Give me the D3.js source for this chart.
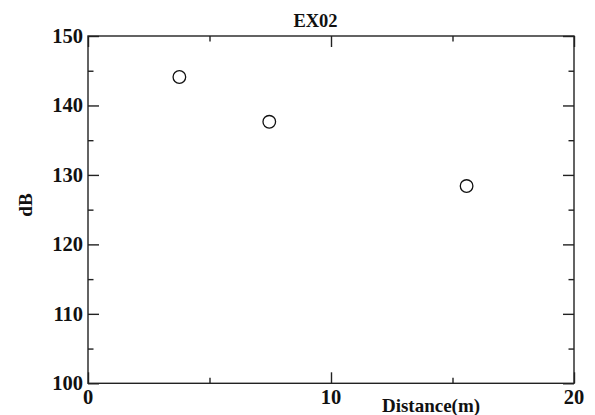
<!DOCTYPE html>
<html><head><meta charset="utf-8">
<script src="https://cdn.jsdelivr.net/npm/d3@7"></script>
<style>body{margin:0;background:#fff}svg{display:block}text{font-family:"Liberation Serif","Times New Roman",serif;font-weight:bold;fill:#111}</style>
</head><body><svg id="c" width="595" height="415"></svg>
<script>
const title = "EX02";
const xLabel = "Distance(m)";
const yLabel = "dB";
const distance = [3.76, 7.46, 15.58];
const level = [144.1, 137.65, 128.4];
const xMajorTicks = [0, 10, 20];
const xMinorTicks = [5, 15];
const yMajorTicks = [100, 110, 120, 130, 140, 150];
const yMinorTicks = [105, 115, 125, 135, 145];

const svg = d3.select("#c");
const L = 88, R = 574, T = 36, B = 383.3;
const x = d3.scaleLinear().domain([0, 20]).range([L, R]);
const y = d3.scaleLinear().domain([100, 150]).range([B, T]);
const col = "#222", sw = 1.4, maj = 11, mnr = 5.5;

// ticks
const addAxis = (axis, tr, vals, size) => {
  const g = svg.append("g").attr("transform", tr)
    .call(axis.tickValues(vals).tickSize(size).tickFormat(""));
  g.select(".domain").remove();
  g.selectAll("line").attr("stroke", col).attr("stroke-width", sw);
};
addAxis(d3.axisBottom(x), `translate(0,${B})`, xMajorTicks, -maj);
addAxis(d3.axisBottom(x), `translate(0,${B})`, xMinorTicks, -mnr);
addAxis(d3.axisTop(x), `translate(0,${T})`, xMajorTicks, -maj);
addAxis(d3.axisTop(x), `translate(0,${T})`, xMinorTicks, -mnr);
addAxis(d3.axisLeft(y), `translate(${L},0)`, yMajorTicks, -maj);
addAxis(d3.axisLeft(y), `translate(${L},0)`, yMinorTicks, -mnr);
addAxis(d3.axisRight(y), `translate(${R},0)`, yMajorTicks, -maj);
addAxis(d3.axisRight(y), `translate(${R},0)`, yMinorTicks, -mnr);

svg.append("rect").attr("x", L).attr("y", T).attr("width", R - L).attr("height", B - T)
  .attr("fill", "none").attr("stroke", col).attr("stroke-width", sw);

// tick labels
svg.selectAll(".yl").data(yMajorTicks).enter().append("text")
  .attr("x", L - 5).attr("y", d => y(d) + 7).attr("text-anchor", "end")
  .style("font-size", "20.5px").text(d => d);
svg.selectAll(".xl").data(xMajorTicks).enter().append("text")
  .attr("x", d => x(d)).attr("y", 403.5).attr("text-anchor", "middle")
  .style("font-size", "20.5px").text(d => d);

// titles
svg.append("text").attr("x", 315.5).attr("y", 26.5).attr("text-anchor", "middle")
  .style("font-size", "18.5px").text(title);
svg.append("text").attr("x", 431).attr("y", 411.5).attr("text-anchor", "middle")
  .style("font-size", "19px").text(xLabel);
svg.append("text").attr("transform", "translate(32,205) rotate(-90)").attr("text-anchor", "middle")
  .style("font-size", "19px").text(yLabel);

// points
svg.selectAll(".pt").data(distance).enter().append("circle")
  .attr("cx", d => x(d)).attr("cy", (d, i) => y(level[i])).attr("r", 6.3)
  .attr("fill", "none").attr("stroke", "#111").attr("stroke-width", 1.3);
</script></body></html>
